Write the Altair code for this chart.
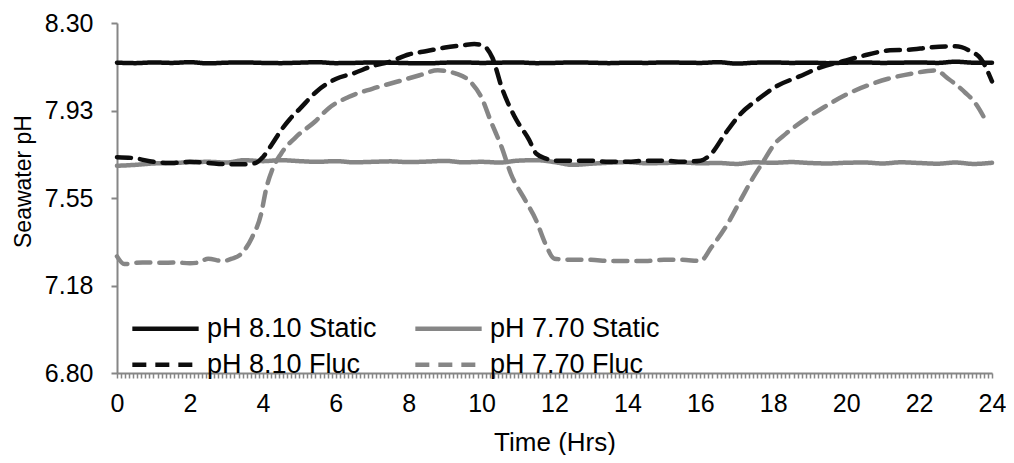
import altair as alt
import pandas as pd

# ---------------- data ----------------
static_names = ["pH 8.10 Static", "pH 7.70 Static"]
fluc_names = ["pH 8.10 Fluc", "pH 7.70 Fluc"]
pair_colors = ["#0d0d0d", "#868686"]
solid_dash = [[1, 0], [1, 0]]
fluc_dash = [[14, 9], [14, 9]]

static_time = [i * 0.5 for i in range(49)]
static_810 = [8.130, 8.128, 8.131, 8.129, 8.132, 8.127, 8.130, 8.131, 8.129, 8.128,
              8.130, 8.132, 8.128, 8.129, 8.131, 8.130, 8.128, 8.127, 8.130, 8.131,
              8.129, 8.130, 8.131, 8.128, 8.129, 8.131, 8.130, 8.128, 8.130, 8.129,
              8.131, 8.130, 8.129, 8.132, 8.126, 8.130, 8.131, 8.129, 8.130, 8.128,
              8.130, 8.131, 8.129, 8.130, 8.131, 8.129, 8.134, 8.130, 8.130]
static_770 = [7.688, 7.692, 7.698, 7.700, 7.703, 7.705, 7.702, 7.712, 7.708, 7.712,
              7.708, 7.705, 7.708, 7.703, 7.705, 7.707, 7.704, 7.706, 7.709, 7.703,
              7.705, 7.702, 7.710, 7.712, 7.704, 7.692, 7.697, 7.701, 7.704, 7.699,
              7.700, 7.702, 7.699, 7.700, 7.696, 7.703, 7.701, 7.704, 7.700, 7.698,
              7.701, 7.702, 7.698, 7.703, 7.700, 7.697, 7.702, 7.696, 7.701]

fluc_810_time = [0, 0.5, 1.0, 1.5, 2.0, 2.5, 3.0, 3.5, 3.8, 4.0, 4.25, 4.5, 4.75, 5.0,
                 5.5, 6.0, 6.5, 7.0, 7.5, 8.0, 8.5, 9.0, 9.5, 9.8, 10.0, 10.15, 10.3,
                 10.55, 10.9, 11.3, 11.5, 11.75, 12.0, 12.5, 13.0, 13.5, 14.0, 14.5,
                 15.0, 15.5, 16.0, 16.3, 16.7, 17.1, 17.6, 18.1, 18.7, 19.3, 20.0,
                 20.6, 21.2, 21.7, 22.3, 23.0, 23.4, 23.7, 24.0]
fluc_810 = [7.725, 7.72, 7.705, 7.70, 7.705, 7.70, 7.695, 7.695, 7.70, 7.725, 7.78,
            7.84, 7.89, 7.93, 8.01, 8.06, 8.085, 8.115, 8.135, 8.165, 8.18, 8.195,
            8.205, 8.21, 8.205, 8.19, 8.15, 8.025, 7.90, 7.80, 7.74, 7.72, 7.71, 7.71,
            7.71, 7.705, 7.705, 7.71, 7.71, 7.705, 7.71, 7.74, 7.83, 7.91, 7.975,
            8.03, 8.07, 8.11, 8.14, 8.165, 8.183, 8.185, 8.195, 8.20, 8.18, 8.145, 8.05]

fluc_770_time = [0, 0.2, 0.7, 1.2, 1.6, 2.0, 2.25, 2.5, 2.9, 3.15, 3.4, 3.7, 3.95, 4.1,
                 4.25, 4.5, 4.9, 5.45, 5.8, 6.35, 7.0, 7.65, 8.3, 8.8, 9.3, 9.7, 10.0,
                 10.25, 10.55, 10.8, 11.2, 11.5, 11.75, 12.0, 12.5, 13.0, 13.5, 14.0,
                 14.5, 15.0, 15.5, 16.0, 16.3, 16.75, 17.1, 17.4, 17.7, 18.05, 18.35,
                 18.9, 19.4, 20.05, 20.6, 21.15, 21.8, 22.45, 22.8, 23.25, 23.55, 23.85]
fluc_770 = [7.30, 7.267, 7.274, 7.272, 7.274, 7.27, 7.274, 7.29, 7.28, 7.29, 7.31,
            7.38, 7.48, 7.595, 7.668, 7.74, 7.81, 7.88, 7.934, 7.983, 8.018, 8.047,
            8.076, 8.097, 8.083, 8.047, 7.98, 7.88, 7.768, 7.655, 7.54, 7.453, 7.354,
            7.29, 7.285, 7.285, 7.28, 7.28, 7.28, 7.285, 7.285, 7.28, 7.338, 7.44,
            7.54, 7.625, 7.70, 7.784, 7.826, 7.89, 7.94, 7.997, 8.033, 8.061, 8.083,
            8.097, 8.061, 8.004, 7.955, 7.875]

y_tick_values = [6.8, 7.175, 7.55, 7.925, 8.3]
y_tick_labels = ["6.80", "7.18", "7.55", "7.93", "8.30"]

# ---------------- tables ----------------
static_rows = []
for t, v in zip(static_time, static_810):
    static_rows.append({"t": t, "ph": v, "series": "pH 8.10 Static"})
for t, v in zip(static_time, static_770):
    static_rows.append({"t": t, "ph": v, "series": "pH 7.70 Static"})
df_static = pd.DataFrame(static_rows)

fluc_rows = []
for t, v in zip(fluc_810_time, fluc_810):
    fluc_rows.append({"t": t, "ph": v, "series": "pH 8.10 Fluc"})
for t, v in zip(fluc_770_time, fluc_770):
    fluc_rows.append({"t": t, "ph": v, "series": "pH 7.70 Fluc"})
df_fluc = pd.DataFrame(fluc_rows)

# minor tick marks along the category axis
x_tick_values = [i / 9 for i in range(217)]
x_label_expr = ("abs(datum.value - round(datum.value)) < 0.001 && "
                "round(datum.value) % 2 == 0 ? format(round(datum.value), 'd') : ''")

y_label_expr = ""
for val, lab in zip(y_tick_values, y_tick_labels):
    y_label_expr += f"abs(datum.value - {val}) < 0.01 ? '{lab}' : "
y_label_expr += "''"

FONT = "Liberation Sans, Arial, sans-serif"
AXIS_GRAY = "#868686"
LEG_FONT = 27


def row_legend(legend_y, col_pad):
    return alt.Legend(
        title=None, orient="none", legendX=13, legendY=legend_y,
        direction="horizontal",
        symbolType="stroke", symbolSize=4400, symbolStrokeWidth=4.5,
        labelFontSize=LEG_FONT, labelFont=FONT, labelColor="#000000", labelOffset=6,
        columnPadding=col_pad, padding=0, labelLimit=400,
    )


x_enc = alt.X("t:Q",
              scale=alt.Scale(domain=[0, 24], nice=False, zero=False),
              axis=alt.Axis(values=x_tick_values, labelExpr=x_label_expr,
                            labelOverlap=False, labelFlush=False,
                            title="Time (Hrs)", titleY=69, titleBaseline="middle",
                            titleFontSize=26,
                            tickSize=5, tickWidth=1.5, tickColor=AXIS_GRAY,
                            labelBaseline="middle", labelPadding=25,
                            grid=False))
y_enc = alt.Y("ph:Q",
              scale=alt.Scale(domain=[6.8, 8.3], nice=False, zero=False),
              axis=alt.Axis(values=y_tick_values, labelExpr=y_label_expr,
                            title="Seawater pH", titleX=-94, titleY=158,
                            titleBaseline="middle", titleFontSize=23,
                            tickSize=6, tickWidth=2, tickColor=AXIS_GRAY,
                            labelPadding=18, grid=False))

line_style = dict(strokeWidth=4.5, strokeCap="round", strokeJoin="round",
                  interpolate="monotone")

leg1 = row_legend(270, 29)
static_layer = alt.Chart(df_static).mark_line(**line_style).encode(
    x=x_enc, y=y_enc,
    color=alt.Color("series:N", scale=alt.Scale(domain=static_names, range=pair_colors),
                    legend=leg1),
    strokeDash=alt.StrokeDash("series:N", scale=alt.Scale(domain=static_names, range=solid_dash),
                              legend=leg1),
    order=alt.Order("t:Q"),
)

leg2 = row_legend(306, 45)
fluc_layer = alt.Chart(df_fluc).mark_line(**line_style).encode(
    x=x_enc, y=y_enc,
    color=alt.Color("series:N", scale=alt.Scale(domain=fluc_names, range=pair_colors),
                    legend=leg2),
    strokeDash=alt.StrokeDash("series:N", scale=alt.Scale(domain=fluc_names, range=fluc_dash),
                              legend=leg2),
    order=alt.Order("t:Q"),
)

chart = alt.layer(static_layer, fluc_layer).resolve_scale(
    color="independent", strokeDash="independent"
).properties(
    width=875, height=350,
    autosize=alt.AutoSizeParams(type="none"),
    padding={"left": 109, "top": 15, "right": 14, "bottom": 82},
).configure_view(
    stroke=None
).configure_axis(
    labelFont=FONT, titleFont=FONT, labelFontSize=25,
    titleFontWeight="normal", labelColor="#000000", titleColor="#000000",
    domainColor=AXIS_GRAY, domainWidth=2,
)

chart.save("out.html", embed_options={"renderer": "svg", "actions": False})
